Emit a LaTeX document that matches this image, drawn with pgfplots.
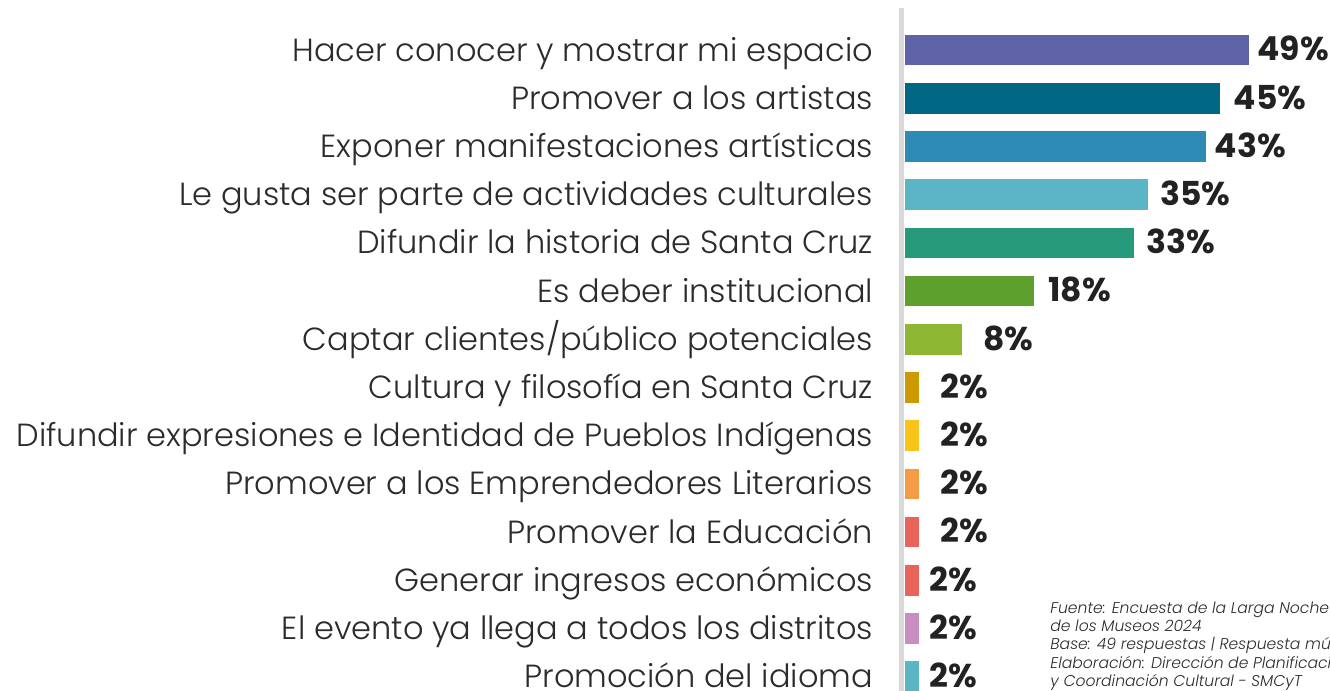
\documentclass[border=0pt]{standalone}
\usepackage{fontspec}
\setmainfont{Poppins}[UprightFont=* Light, ItalicFont=* Light Italic, BoldFont=* Bold]
\usepackage{pgfplots}
\pgfplotsset{compat=1.18}
\definecolor{c1}{HTML}{5E62A6}
\definecolor{c2}{HTML}{006884}
\definecolor{c3}{HTML}{2E8BB5}
\definecolor{c4}{HTML}{5BB5C7}
\definecolor{c5}{HTML}{25997A}
\definecolor{c6}{HTML}{5DA02E}
\definecolor{c7}{HTML}{8DB733}
\definecolor{c8}{HTML}{CC9900}
\definecolor{c9}{HTML}{F9C31A}
\definecolor{c10}{HTML}{F39C45}
\definecolor{c11}{HTML}{E9655B}
\definecolor{c12}{HTML}{E9655B}
\definecolor{c13}{HTML}{C88EBF}
\definecolor{c14}{HTML}{5BB6C4}
\definecolor{labelc}{HTML}{2B2B2B}
\definecolor{valc}{HTML}{222222}
\definecolor{linec}{HTML}{D9D9D9}
\begin{document}
\begin{tikzpicture}
\path[use as bounding box] (0,0) rectangle (665pt,345.5pt);
\begin{axis}[
  at={(450.75pt,0pt)}, anchor=south west,
  scale only axis, width=214.2pt, height=341.35pt,
  xmin=-0.43, xmax=60.5, ymin=-0.868, ymax=13.296,
  y dir=reverse,
  axis x line=none,
  axis y line*=left,
  y axis line style={draw=linec, line width=2.75pt},
  ytick={0,...,13},
  major tick length=0pt,
  yticklabels={Hacer conocer y mostrar mi espacio, Promover a los artistas, Exponer manifestaciones artísticas, Le gusta ser parte de actividades culturales, Difundir la historia de Santa Cruz, Es deber institucional, Captar clientes/público potenciales, Cultura y filosofía en Santa Cruz, Difundir expresiones e Identidad de Pueblos Indígenas, Promover a los Emprendedores Literarios, Promover la Educación, Generar ingresos económicos, El evento ya llega a todos los distritos, Promoción del idioma},
  yticklabel style={anchor=base east, inner sep=0pt, xshift=-14pt, yshift=-5.5pt, font=\fontsize{16}{19}\selectfont, text=labelc},
  every axis plot/.append style={xbar, bar shift=0pt, bar width=15.35pt, draw=none},
]
\addplot[fill=c1] coordinates {(48.98,0)};
\addplot[fill=c2] coordinates {(44.90,1)};
\addplot[fill=c3] coordinates {(42.86,2)};
\addplot[fill=c4] coordinates {(34.69,3)};
\addplot[fill=c5] coordinates {(32.65,4)};
\addplot[fill=c6] coordinates {(18.37,5)};
\addplot[fill=c7] coordinates {(8.16,6)};
\addplot[fill=c8] coordinates {(2.04,7)};
\addplot[fill=c9] coordinates {(2.04,8)};
\addplot[fill=c10] coordinates {(2.04,9)};
\addplot[fill=c11] coordinates {(2.04,10)};
\addplot[fill=c12] coordinates {(2.04,11)};
\addplot[fill=c13] coordinates {(2.04,12)};
\addplot[fill=c14] coordinates {(2.04,13)};
\addplot[xbar=false, draw=none, mark=none, point meta=explicit symbolic,
  nodes near coords={\pgfplotspointmeta\%},
  every node near coord/.append style={anchor=base west, inner sep=0pt, yshift=-5.4pt, font=\bfseries\fontsize{16.5}{19}\selectfont, text=valc}]
  table[x=x, y=y, meta=v] {
x y v
50.14 0 49
46.80 1 45
44.10 2 43
36.36 3 35
34.38 4 33
20.41 5 18
11.17 6 8
5.05 7 2
5.05 8 2
5.05 9 2
5.05 10 2
3.49 11 2
3.49 12 2
3.49 13 2
};
\end{axis}
\node[anchor=base west, inner sep=0pt, align=left, text=labelc, font=\itshape\fontsize{7.8}{9.2}\selectfont] at (525pt,2.15pt) {Fuente: Encuesta de la Larga Noche\\de los Museos 2024\\Base: 49 respuestas | Respuesta múltiple\\Elaboración: Dirección de Planificación\\y Coordinación Cultural - SMCyT};
\end{tikzpicture}
\end{document}
